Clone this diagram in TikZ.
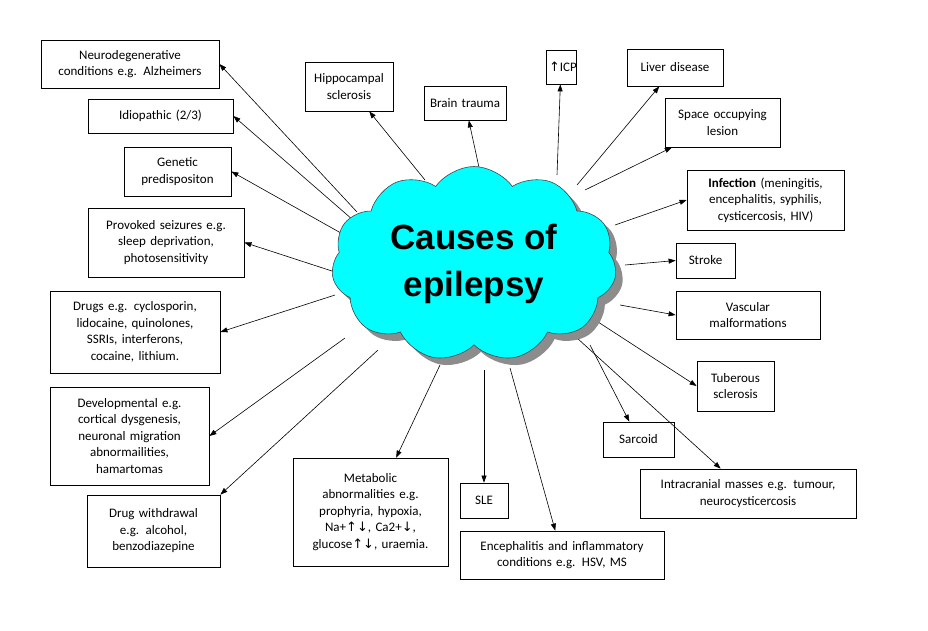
\documentclass[tikz,border=0pt]{standalone}
\usepackage{fontspec}
\setmainfont{Carlito}
\newfontfamily\cloudfont{Liberation Sans}
\newfontfamily\arrfont{DejaVu Sans}
\usetikzlibrary{shapes.symbols,arrows.meta}
\definecolor{cloudcyan}{RGB}{0,255,255}
\newcommand{\up}{{\arrfont\char"2191}}
\newcommand{\dn}{{\arrfont\char"2193}}
\begin{document}
\begin{tikzpicture}[x=1pt,y=-1pt,
  box/.style={draw,line width=0.8pt,align=center,inner sep=1pt,font=\fontsize{13}{16.5}\selectfont},
  conn/.style={line width=0.6pt,-{Triangle[length=7pt,width=5pt]}},
  cloudsh/.style={cloud,cloud puffs=11,cloud puff arc=110,aspect=1.5,minimum width=285pt,minimum height=195pt,inner sep=0pt}]
\useasboundingbox (0,0) rectangle (928,630);
\newcommand{\bx}[5]{\node[box,minimum width=#3pt,minimum height=#4pt,text width=#3pt-6pt] (#1) at #2 {#5};}
\bx{neuro}{(130,64)}{178}{48}{Neurodegenerative\\conditions e.g. Alzheimers}
\bx{idio}{(160.5,116)}{145}{34}{Idiopathic (2/3)}
\bx{gen}{(177.5,171.5)}{107}{49}{Genetic\\predispositon}
\bx{prov}{(166,242.5)}{156}{69}{Provoked seizures e.g.\\sleep deprivation,\\photosensitivity}
\bx{drugs}{(135,332)}{170}{82}{Drugs e.g. cyclosporin,\\lidocaine, quinolones,\\SSRIs, interferons,\\cocaine, lithium.}
\bx{dev}{(129.5,436)}{159}{98}{Developmental e.g.\\cortical dysgenesis,\\neuronal migration\\abnormailities,\\hamartomas}
\bx{dw}{(153.5,531)}{133}{72}{Drug withdrawal\\e.g. alcohol,\\benzodiazepine}
\bx{meta}{(370.5,512)}{155}{108}{Metabolic\\abnormalities e.g.\\prophyria, hypoxia,\\Na+\up\dn, Ca2+\dn,\\glucose\up\dn, uraemia.}
\bx{sle}{(484,500.5)}{48}{35}{SLE}
\bx{enc}{(562,555)}{204}{48}{Encephalitis and inflammatory\\conditions e.g. HSV, MS}
\bx{hip}{(349,86.5)}{88}{49}{Hippocampal\\sclerosis}
\bx{bt}{(465,103)}{82}{34}{Brain trauma}
\bx{icp}{(561,67)}{30}{34}{\up ICP}
\bx{liver}{(675,67.5)}{96}{37}{Liver disease}
\bx{space}{(722.5,122.5)}{115}{49}{Space occupying\\lesion}
\bx{inf}{(765.5,200)}{157}{60}{\textbf{Infection} (meningitis,\\encephalitis, syphilis,\\cysticercosis, HIV)}
\bx{stroke}{(705.5,260.5)}{59}{35}{Stroke}
\bx{vasc}{(748,315)}{144}{48}{Vascular\\malformations}
\bx{tub}{(735.5,386)}{77}{50}{Tuberous\\sclerosis}
\bx{sarc}{(638.5,439.5)}{71}{35}{Sarcoid}
\bx{intra}{(748,493.5)}{216}{49}{Intracranial masses e.g. tumour,\\neurocysticercosis}
\foreach \n/\a/\b/\e in {neuro/357/212/neuro.east,idio/353/220/idio.east,gen/348/237/gen.east,prov/335/272/prov.east,drugs/335/295/drugs.east,dev/345/338/dev.east,dw/378/350/dw.north east,meta/440/365/meta,sle/484/370/sle,enc/510/368/enc,hip/425/180/hip,bt/480/172/bt,icp/557/175/icp,liver/577/185/liver,space/585/190/space,inf/615/225/inf.west,stroke/625/265/stroke.west,vasc/620/305/vasc.west,tub/595/320/tub.west,sarc/590/345/sarc,intra/577/338/intra}{
  \coordinate (s-\n) at (\a,\b);
  \draw[conn] (s-\n) -- (\e);
}
\node[cloudsh,fill=black!45] (shadow) at (481,271) {};
\node[cloudsh,draw=black!80!cyan,fill=cloudcyan,line width=0.6pt] (cl) at (474,264) {};
\node[font=\cloudfont\bfseries\fontsize{35}{47}\selectfont,align=center] (title) at (cl.center) {Causes of\\epilepsy};
\end{tikzpicture}
\end{document}
